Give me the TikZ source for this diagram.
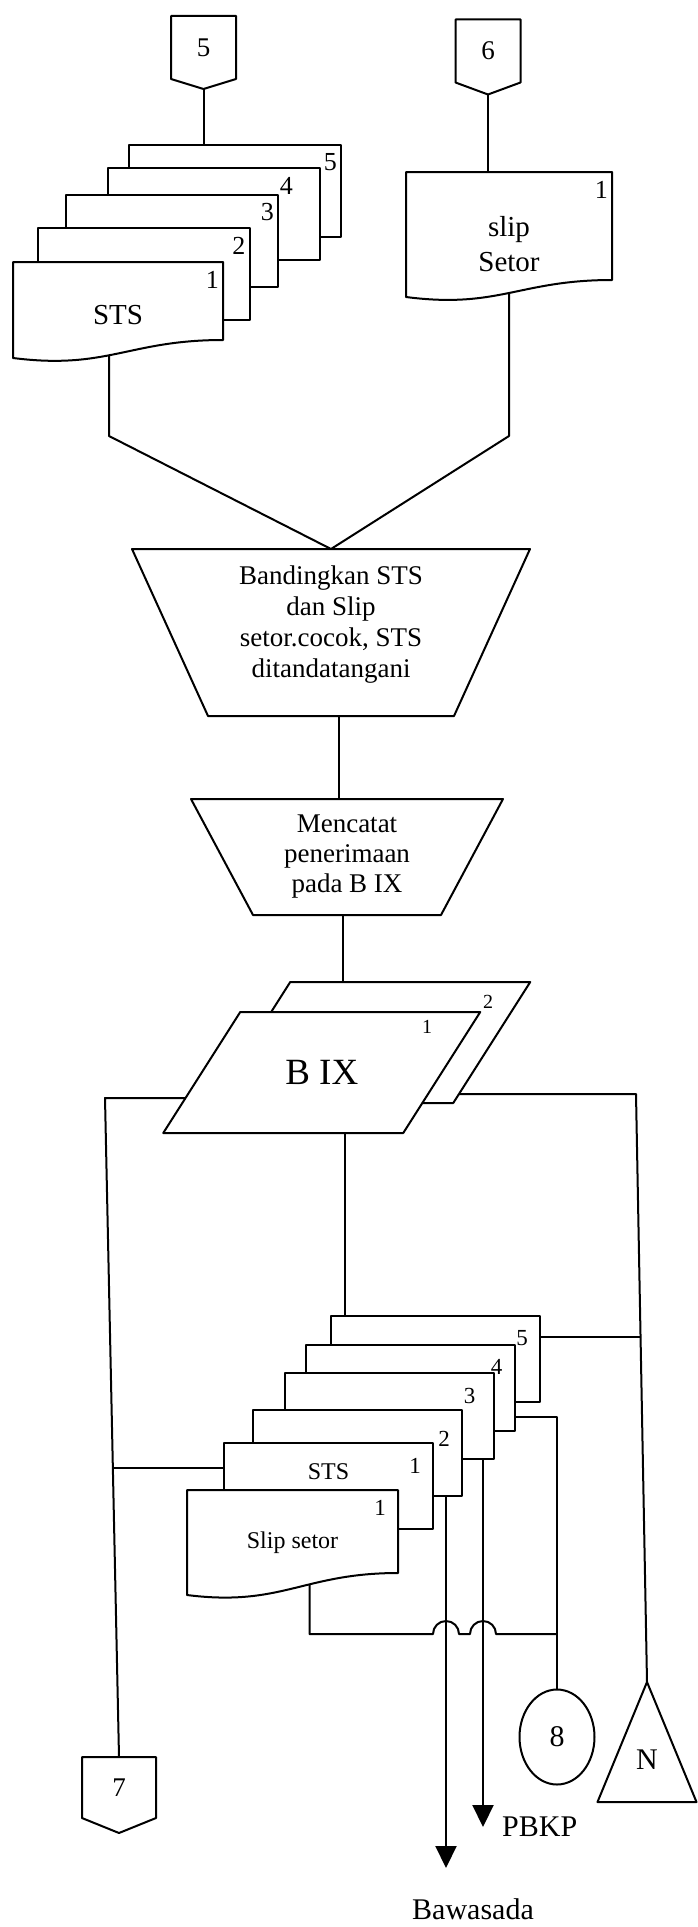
\documentclass[tikz,border=0pt]{standalone}
\usepackage{fontspec}
\setmainfont{Liberation Serif}
\usetikzlibrary{arrows.meta,positioning,calc,shapes.geometric,backgrounds}
\tikzset{
  flowline/.style={line width=2pt, line join=round},
  flowarrow/.style={flowline,-{Triangle[width=21pt,length=22pt]}},
  rim/.style={line width=2pt, line join=round},
  rimfill/.style={rim, fill=white},
  blank/.style={inner sep=0pt, outer sep=0pt},
  pagebox/.style={blank, minimum width=65pt, minimum height=63pt,
    font=\fontsize{27}{27}\selectfont},
  topsheet/.style={blank, draw, rimfill, minimum width=212pt, minimum height=92pt},
  lowsheet/.style={blank, draw, rimfill, minimum width=209pt, minimum height=86pt},
  topno/.style={anchor=north east, inner xsep=4pt, inner ysep=9pt,
    font=\fontsize{26}{26}\selectfont},
  lowno/.style={anchor=north east, inner xsep=12pt, inner ysep=15pt,
    font=\fontsize{23}{23}\selectfont},
  bixno/.style={inner sep=0pt, font=\fontsize{20}{20}\selectfont},
  doctext/.style={inner sep=0pt, align=center, font=\fontsize{29}{35}\selectfont},
  proctext/.style={inner sep=0pt, align=center, font=\fontsize{27}{31}\selectfont},
  lowtext/.style={inner sep=0pt, font=\fontsize{24}{24}\selectfont},
  endtext/.style={inner sep=0pt, font=\fontsize{30}{30}\selectfont}
}
\newcommand{\pagepent}[2]{%
  \draw[rim] (#1.north west) -- (#1.north east) -- (#1.south east)
    -- ($(#1.south)+(0,#2)$) -- (#1.south west) -- cycle;}
\newcommand{\wavesheet}[2]{%
  \draw[rimfill] (#1.north west) -- (#1.north east) -- ($(#1.south east)+(0,-#2)$)
    .. controls ($(#1.south east)!0.45!(#1.south west)+(0,-#2)$)
    and ($(#1.south west)!0.45!(#1.south east)+(0,12)$) .. (#1.south west) -- cycle;}
\newcommand{\trapout}[2]{%
  \draw[rim] (#1.north west) -- (#1.north east) -- ($(#1.south east)+(-#2,0)$)
    -- ($(#1.south west)+(#2,0)$) -- cycle;}
\newcommand{\slantsheet}[2]{%
  \draw[rimfill] ($(#1.north west)+(#2,0)$) -- ($(#1.north east)+(#2,0)$)
    -- ($(#1.south east)+(-#2,0)$) -- ($(#1.south west)+(-#2,0)$) -- cycle;}
\newcommand{\triout}[1]{%
  \draw[rim] (#1.north) -- (#1.south east) -- (#1.south west) -- cycle;}

\begin{document}
\begin{tikzpicture}[x=1pt,y=-1pt]
\useasboundingbox (0,0) rectangle (698,1927);

\node[pagebox] (c5) at (203.5,47.5) {5};
\pagepent{c5}{10}
\node[pagebox] (c6) at (488,51) {6};
\pagepent{c6}{12}

\node[topsheet, label={[topno,name=sts5no]north east:5}] (sts5) at (235,190.5) {};
\node[topsheet, label={[topno,name=sts4no,xshift=-23pt]north east:4}] (sts4) at (214,214) {};
\node[topsheet, label={[topno,name=sts3no]north east:3}] (sts3) at (172,240.5) {};
\node[topsheet, label={[topno,name=sts2no]north east:2}] (sts2) at (143.5,274) {};
\node[blank, minimum width=210pt, minimum height=96pt] (sts1) at (118,310) {};
\wavesheet{sts1}{18}
\node[doctext] (sts1txt) at ([yshift=-5pt]sts1.center) {STS};
\node[topno] (sts1no) at (sts1.north east) {1};

\node[blank, minimum width=206pt, minimum height=125pt] (slipt) at (509,234.5) {};
\wavesheet{slipt}{17}
\node[doctext] (sliptxt) at ([yshift=-10pt]slipt.center) {slip\\Setor};
\node[topno] (slipno) at (slipt.north east) {1};

\node[blank, minimum width=398pt, minimum height=167pt] (band) at (331,632.5) {};
\trapout{band}{76}
\node[proctext] (bandtxt) at ([yshift=8pt]band.center)
  {Bandingkan STS\\dan Slip\\setor.cocok, STS\\ditandatangani};

\node[blank, minimum width=312pt, minimum height=116pt] (catat) at (347,857) {};
\trapout{catat}{62}
\node[proctext, font=\fontsize{27}{30}\selectfont] (catattxt) at (catat)
  {Mencatat\\penerimaan\\pada B IX};

\node[blank, minimum width=240pt, minimum height=121pt] (bixb) at (371.75,1042.5) {};
\slantsheet{bixb}{38.5}
\node[bixno] (bixno2) at (488,1002) {2};
\node[blank, minimum width=240pt, minimum height=121pt] (bix) at (321.75,1072.5) {};
\slantsheet{bix}{38.5}
\node[inner sep=0pt, font=\fontsize{37}{37}\selectfont] (bixtxt) at (bix) {B IX};
\node[bixno] (bixno1) at (427,1027) {1};

\node[lowsheet, label={[lowno,name=out5no]north east:5}] (out5) at (435.5,1358.5) {};
\node[lowsheet, label={[lowno,name=out4no]north east:4}] (out4) at (410,1387.5) {};
\node[lowsheet, label={[lowno,name=out3no,xshift=-6pt]north east:3}] (out3) at (389,1416) {};
\node[lowsheet, label={[lowno,name=out2no,yshift=-6pt]north east:2}] (out2) at (357.5,1453) {};
\node[lowsheet, label={[lowno,name=out1no]north east:1}] (out1) at (328.5,1486) {};
\node[lowtext, below=20pt of out1.north] (out1txt) {STS};
\node[blank, minimum width=211pt, minimum height=105pt] (slipb) at (292.5,1542.5) {};
\wavesheet{slipb}{22}
\node[lowtext] (slipbtxt) at (slipb) {Slip setor};
\node[lowno, yshift=5pt] (slipbno) at (slipb.north east) {1};

\node[pagebox, minimum width=74pt, minimum height=61pt] (c7) at (119,1787.5) {7};
\pagepent{c7}{15}
\node[blank, draw, rim, ellipse, minimum width=75pt, minimum height=95pt,
  font=\fontsize{30}{30}\selectfont] (c8) at (557,1737) {8};
\node[blank, minimum width=99pt, minimum height=120pt] (ntri) at (647,1742) {};
\triout{ntri}
\node[endtext] (ntxt) at ([yshift=-18pt]ntri.center) {N};

\coordinate (tipB) at (446,1868);
\coordinate (tipP) at (483,1827);
\node[endtext, right=19pt of tipP] (pbkp) {PBKP};
\node[endtext, below=30pt of tipB, xshift=27pt] (bawa) {Bawasada};

\coordinate (lbend) at (105,1098);
\coordinate (lfork) at (113,1468);
\coordinate (rbend) at (636,1094);
\coordinate (rfork) at (640,1337);
\coordinate (hopline) at (0,1634);
\coordinate (bandout) at ([xshift=8pt]band.south);
\coordinate (catatout) at ([xshift=-4pt]catat.south);
\coordinate (bixout) at ([xshift=23pt]bix.south);
\coordinate (slipout) at ([xshift=17pt]slipb.center);

\begin{scope}[on background layer]
  \draw[flowline] ($(c5.south)+(0,10)$) -- (c5.south |- sts5.north);
  \draw[flowline] ($(c6.south)+(0,12)$) -- (c6.south |- slipt.north);
  \draw[flowline] ([xshift=-9pt]sts1.center) -- ++(0,126) -- (band.north);
  \draw[flowline] (slipt.center) -- ++(0,201.5) -- (band.north);
  \draw[flowline] (bandout) -- (bandout |- catat.north);
  \draw[flowline] (catatout) -- (catatout |- bixb.north);
  \draw[flowline] (bix.center |- lbend) -- (lbend) -- (c7.north);
  \draw[flowline] (lfork) -- (lfork -| out1.west);
  \draw[flowline] (bixb.center |- rbend) -- (rbend) -- (ntri.north);
  \draw[flowline] (rfork) -- (rfork -| out5.east);
  \draw[flowline] (bixout) -- (bixout |- out5.north);
  \draw[flowline] ($(out4.east)+(0,29.5)$) -| (c8.north);
  \draw[flowline] (slipout) -- (slipout |- hopline)
    -- ($(tipB |- hopline)+(-13,0)$) arc[start angle=180,end angle=360,radius=13]
    -- ($(tipP |- hopline)+(-13,0)$) arc[start angle=180,end angle=360,radius=13]
    -- (c8.north |- hopline);
  \draw[flowarrow] (tipB |- out2.south) -- (tipB);
  \draw[flowarrow] (tipP |- out3.south) -- (tipP);
\end{scope}
\end{tikzpicture}
\end{document}
